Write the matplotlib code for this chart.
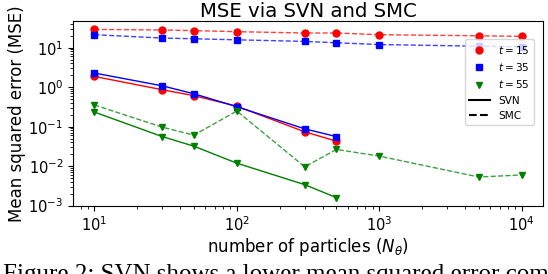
import matplotlib
matplotlib.use("Agg")
import matplotlib.pyplot as plt
from matplotlib.lines import Line2D

# Data
n_svn = [10, 30, 50, 100, 300, 500]
n_smc = [10, 30, 50, 100, 300, 500, 1000, 5000, 10000]

svn_t15 = [1.87, 0.86, 0.61, 0.33, 0.074, 0.043]
svn_t35 = [2.28, 1.08, 0.68, 0.32, 0.088, 0.056]
svn_t55 = [0.234, 0.056, 0.032, 0.0119, 0.0034, 0.0016]

smc_t15 = [29.0, 28.0, 27.0, 25.4, 23.5, 23.5, 21.3, 20.0, 19.3]
smc_t35 = [21.3, 17.5, 16.8, 15.8, 14.4, 13.3, 12.0, 10.9, 10.5]
smc_t55 = [0.354, 0.097, 0.061, 0.249, 0.0096, 0.0265, 0.018, 0.0053, 0.006]

labels_t = ["$t=15$", "$t=35$", "$t=55$"]
colors = ["#ff0000", "#0000ff", "#008000"]
markers = ["o", "s", "v"]

fig = plt.figure(figsize=(5.48, 2.74), dpi=100)
ax = fig.add_axes([0.1332, 0.2482, 0.8577, 0.6752])

svn = [svn_t15, svn_t35, svn_t55]
smc = [smc_t15, smc_t35, smc_t55]
for c, m, ys in zip(colors, markers, svn):
    ax.plot(n_svn, ys, color=c, marker=m, markersize=5, linewidth=1.0, linestyle="-")
for c, m, ys in zip(colors, markers, smc):
    ax.plot(n_smc, ys, color=c, linewidth=1.0, linestyle="--", alpha=0.75)
    ax.plot(n_smc, ys, color=c, marker=m, markersize=5, linestyle="none")

ax.set_xscale("log")
ax.set_yscale("log")
ax.tick_params(labelsize=10.5)
ax.set_xlabel(r"number of particles ($N_\theta$)", fontsize=12, labelpad=1.5)
ax.set_ylabel("Mean squared error (MSE)", fontsize=12, labelpad=1.5)
ax.set_title("MSE via SVN and SMC", fontsize=14.2, pad=3)

handles = [Line2D([], [], color=c, marker=m, linestyle="none", markersize=5) for c, m in zip(colors, markers)]
handles += [Line2D([], [], color="black", linestyle="-", linewidth=1.5),
            Line2D([], [], color="black", linestyle="--", linewidth=1.5)]
ax.legend(handles, labels_t + ["SVN", "SMC"], loc="upper right",
          bbox_to_anchor=(0.981, 0.90), borderaxespad=0, fontsize=7.6)

fig.text(0.005, -0.024, "Figure 2: SVN shows a lower mean squared error com",
         family="Liberation Serif", fontsize=18, va="baseline", ha="left")

fig.savefig("out.png", dpi=100)
